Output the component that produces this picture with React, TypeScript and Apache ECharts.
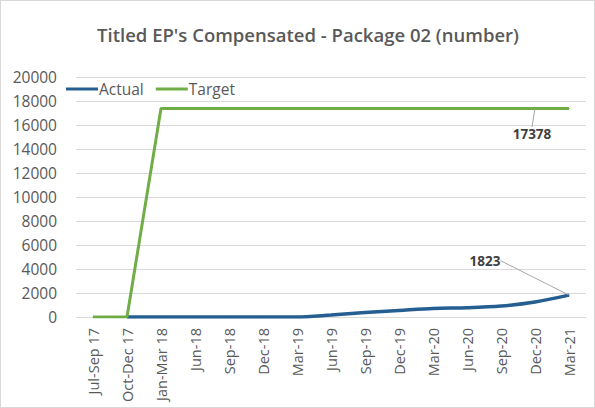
import React, { useEffect, useRef } from "react";
import * as echarts from "echarts";

const categories = [
  "Jul-Sep 17", "Oct-Dec 17", "Jan-Mar 18", "Jun-18", "Sep-18", "Dec-18",
  "Mar-19", "Jun-19", "Sep-19", "Dec-19", "Mar-20", "Jun-20", "Sep-20",
  "Dec-20", "Mar-21",
];
const actual: (number | null)[] = [
  null, 0, 0, 0, 0, 0, 0, 170, 370, 540, 710, 770, 910, 1250, 1823,
];
const target: number[] = [
  0, 0, 17378, 17378, 17378, 17378, 17378, 17378, 17378, 17378, 17378,
  17378, 17378, 17378, 17378,
];
const yTicks = { min: 0, max: 20000, interval: 2000 };
const labelledTargetIndex = 13;
const labelledActualIndex = 14;

export default function App() {
  const ref = useRef<HTMLDivElement>(null);
  useEffect(() => {
    document.body.style.margin = "0";
    const chart = echarts.init(ref.current!, null, { renderer: "svg" });
    const font = "'Open Sans', 'Noto Sans', sans-serif";
    const gray = "#595959";
    const labelStyle = {
      show: true,
      position: "top",
      formatter: "{c}",
      fontFamily: font,
      fontWeight: "bold",
      fontSize: 13.5,
      color: "#404040",
    };
    chart.setOption({
      animation: false,
      backgroundColor: "#ffffff",
      title: {
        text: "Titled EP's Compensated - Package 02 (number)",
        left: 302,
        textAlign: "center",
        top: 19,
        textStyle: { fontFamily: font, fontSize: 18.5, fontWeight: 600, color: gray },
      },
      legend: {
        left: 60,
        top: 75,
        itemWidth: 32,
        itemHeight: 3,
        itemGap: 12,
        icon: "rect",
        textStyle: { fontFamily: font, fontSize: 15.5, color: gray, padding: [0, 0, 0, -4] },
        data: ["Actual", "Target"],
      },
      grid: { left: 75, right: 8, top: 76, bottom: 90 },
      xAxis: {
        type: "category",
        data: categories,
        boundaryGap: true,
        axisLine: { lineStyle: { color: "#d9d9d9" } },
        axisTick: { show: false },
        axisLabel: {
          rotate: 90,
          interval: 0,
          fontFamily: font,
          fontSize: 14.5,
          color: gray,
          margin: 11,
        },
      },
      yAxis: {
        type: "value",
        min: yTicks.min,
        max: yTicks.max,
        interval: yTicks.interval,
        axisLine: { show: false },
        axisTick: { show: false },
        splitLine: { lineStyle: { color: "#d9d9d9" } },
        axisLabel: {
          fontFamily: font,
          fontSize: 15.5,
          color: gray,
          margin: 19,
          formatter: (v: number) => String(v),
        },
      },
      series: [
        {
          name: "Actual",
          type: "line",
          data: actual.map((v, i) =>
            i === labelledActualIndex ? { value: v, label: labelStyle } : v
          ),
          smooth: 0.3,
          showSymbol: true,
          symbol: "circle",
          symbolSize: 1,
          color: "#255e91",
          lineStyle: { width: 3.5, color: "#255e91" },
          labelLine: { show: true, lineStyle: { color: "#a6a6a6", width: 1 } },
          labelLayout: (p: any) =>
            p.dataIndex === labelledActualIndex ? { dx: -84, dy: -22 } : {},
          z: 2,
        },
        {
          name: "Target",
          type: "line",
          data: target.map((v, i) =>
            i === labelledTargetIndex ? { value: v, label: labelStyle } : v
          ),
          showSymbol: true,
          symbol: "circle",
          symbolSize: 1,
          color: "#70ad47",
          lineStyle: { width: 3, color: "#70ad47" },
          labelLine: { show: true, lineStyle: { color: "#a6a6a6", width: 1 } },
          labelLayout: (p: any) =>
            p.dataIndex === labelledTargetIndex ? { dx: -3, dy: 38 } : {},
          z: 3,
        },
      ],
    });
    return () => chart.dispose();
  }, []);
  return (
    <div
      ref={ref}
      style={{
        width: 595,
        height: 408,
        boxSizing: "border-box",
        border: "1px solid #d9d9d9",
        position: "absolute",
        left: 0,
        top: 0,
      }}
    />
  );
}
